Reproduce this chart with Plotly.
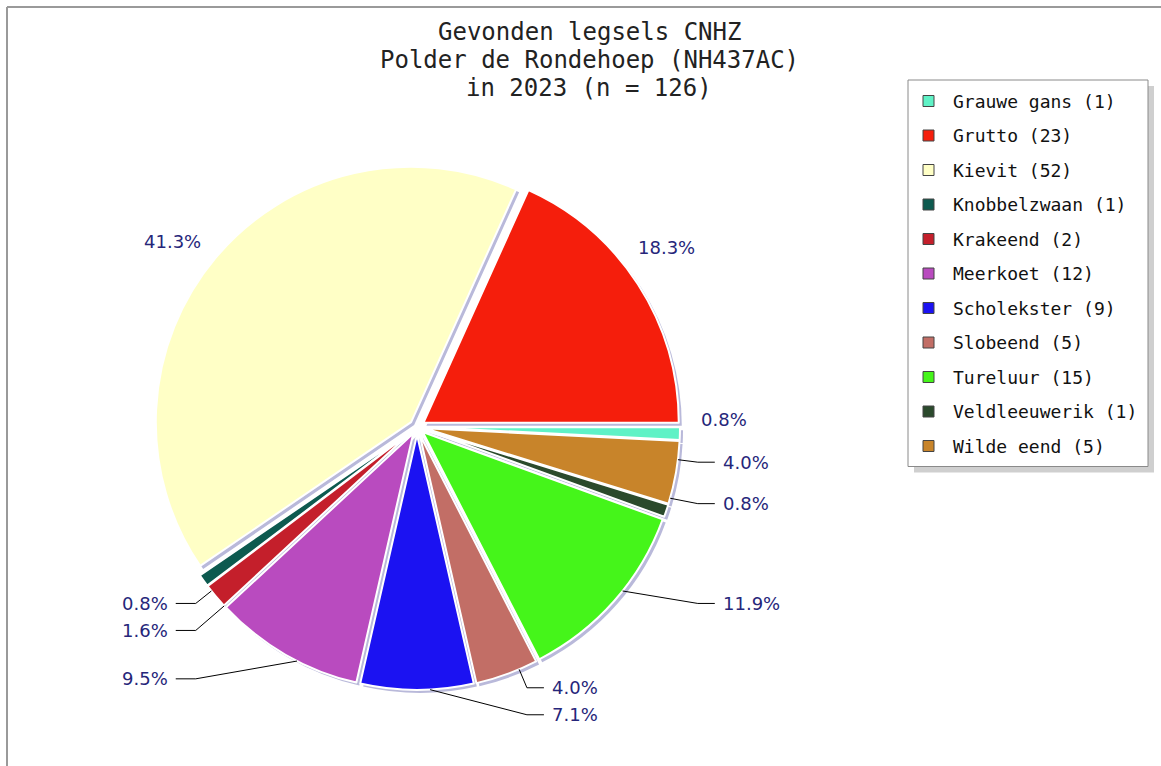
import math
import plotly.graph_objects as go

W, H = 1161, 766

soorten = ["Grauwe gans", "Grutto", "Kievit", "Knobbelzwaan", "Krakeend", "Meerkoet",
           "Scholekster", "Slobeend", "Tureluur", "Veldleeuwerik", "Wilde eend"]
aantallen = [1, 23, 52, 1, 2, 12, 9, 5, 15, 1, 5]
kleuren = ["#5ff2c6", "#f51e0c", "#ffffc6", "#0d5a4f", "#c41f2b", "#b94bbf",
           "#1b12f2", "#c26e66", "#45f51a", "#2b4a2c", "#c8842a"]

totaal = sum(aantallen)
titel = ["Gevonden legsels CNHZ", "Polder de Rondehoep (NH437AC)",
         f"in 2023 (n = {totaal})"]

# geometrie van de taart (pixels)
CX, CY = 417, 427
R_OUT = 263      # buitenrand incl. pull
PULL = 0.03
R_TXT = 307      # labels zonder hulplijn
R_GUIDE = 283    # hulplijnen
VSTEP = 27
LBL_FONT = dict(family="DejaVu Sans", size=18, color="#26267a")
MONO = "DejaVu Sans Mono"

# hoeken (graden, tegen de klok in vanaf 3 uur)
mids = []
hoek = 0.0
for a in aantallen:
    span = 360.0 * a / totaal
    mids.append(hoek + span / 2)
    hoek += span
pct = [f"{100.0 * a / totaal:.1f}%" for a in aantallen]

fig = go.Figure()

dom_x = [(CX - R_OUT) / W, (CX + R_OUT) / W]
dom_y = [1 - (CY + R_OUT) / H, 1 - (CY - R_OUT) / H]
sh = 3
# schaduw
fig.add_trace(go.Pie(
    values=aantallen, labels=soorten, sort=False, direction="counterclockwise",
    rotation=90, pull=PULL, textinfo="none", hoverinfo="skip", showlegend=False,
    marker=dict(colors=["#b9b9da"] * len(aantallen), line=dict(width=0)),
    domain=dict(x=[dom_x[0] + sh / W, dom_x[1] + sh / W],
                y=[dom_y[0] - sh / H, dom_y[1] - sh / H])))
fig.add_trace(go.Pie(
    values=aantallen, labels=soorten, sort=False, direction="counterclockwise",
    rotation=90, pull=PULL, textinfo="none", showlegend=False,
    hoverinfo="label+value+percent",
    marker=dict(colors=kleuren, line=dict(color="white", width=2)),
    domain=dict(x=dom_x, y=dom_y)))

annotations = []
shapes = []

# titel
for k, regel in enumerate(titel):
    annotations.append(dict(x=589, y=32 + 28 * k, text=regel, showarrow=False,
                            xanchor="center", yanchor="middle",
                            font=dict(family=MONO, size=24, color="#222")))

# labels in de bovenste helft: zonder hulplijn
for i, m in enumerate(mids):
    if math.sin(math.radians(m)) >= 0:
        annotations.append(dict(
            x=CX + R_TXT * math.cos(math.radians(m)),
            y=CY - R_TXT * math.sin(math.radians(m)),
            text=pct[i], showarrow=False, font=LBL_FONT,
            xanchor="center", yanchor="middle"))

# onderste helft: clusters per kwadrant
onder = [i for i, m in enumerate(mids) if math.sin(math.radians(m)) < 0]
clusters = []
for i in onder:
    q = 2 if mids[i] < 270 else 3
    if clusters and clusters[-1][0] == q and mids[i] - mids[clusters[-1][1][-1]] < 25:
        clusters[-1][1].append(i)
    else:
        clusters.append([q, [i]])

for q, idx in clusters:
    volgorde = idx if q == 2 else idx[::-1]   # dichtst bij de evenaar eerst
    a0 = math.radians(mids[volgorde[0]])
    xcol = CX + R_GUIDE * math.cos(a0)
    rechts = math.cos(a0) > 0
    y_prev = None
    for i in volgorde:
        a = math.radians(mids[i])
        y = CY - R_GUIDE * math.sin(a)
        if y_prev is not None:
            y = max(y, y_prev + VSTEP)
        y_prev = y
        x0 = CX + R_OUT * math.cos(a)
        y0 = CY - R_OUT * math.sin(a)
        x2 = xcol + (17 if rechts else -20)
        shapes.append(dict(type="path", xref="x", yref="y",
                           path=f"M {x0},{y0} L {xcol},{y} L {x2},{y}",
                           line=dict(color="black", width=1)))
        annotations.append(dict(
            x=x2 + (6 if rechts else -6), y=y, text=pct[i], showarrow=False,
            font=LBL_FONT, xanchor="left" if rechts else "right", yanchor="middle"))

# legenda
LX0, LX1, LY0 = 908, 1148, 80
ROW = 34.5
LY1 = LY0 + ROW * len(soorten) + 7
shapes.append(dict(type="rect", xref="x", yref="y", x0=LX0 + 6, x1=LX1 + 6,
                   y0=LY0 + 6, y1=LY1 + 6, fillcolor="#cfcfcf", line=dict(width=0)))
shapes.append(dict(type="rect", xref="x", yref="y", x0=LX0, x1=LX1, y0=LY0, y1=LY1,
                   fillcolor="white", line=dict(color="#8a8a8a", width=1)))
for i, (s, a) in enumerate(zip(soorten, aantallen)):
    yc = LY0 + 21 + i * ROW
    shapes.append(dict(type="rect", xref="x", yref="y", x0=923, x1=934,
                       y0=yc - 5.5, y1=yc + 5.5, fillcolor=kleuren[i],
                       line=dict(color="#444", width=1)))
    annotations.append(dict(x=951, y=yc, text=f"{s} ({a})", showarrow=False,
                            xanchor="left", yanchor="middle",
                            font=dict(family=MONO, size=18, color="#111")))

# kader links en boven
shapes.append(dict(type="line", xref="x", yref="y", x0=7, x1=7, y0=7, y1=H,
                   line=dict(color="#9a9a9a", width=2)))
shapes.append(dict(type="line", xref="x", yref="y", x0=7, x1=W, y0=7, y1=7,
                   line=dict(color="#9a9a9a", width=2)))

fig.update_layout(
    width=W, height=H,
    margin=dict(l=0, r=0, t=0, b=0),
    paper_bgcolor="white", plot_bgcolor="white",
    xaxis=dict(range=[0, W], visible=False, fixedrange=True),
    yaxis=dict(range=[H, 0], visible=False, fixedrange=True),
    annotations=annotations, shapes=shapes, showlegend=False)

fig.write_html("out.html", config={"displayModeBar": False},
               post_script="document.body.style.margin='0';")
